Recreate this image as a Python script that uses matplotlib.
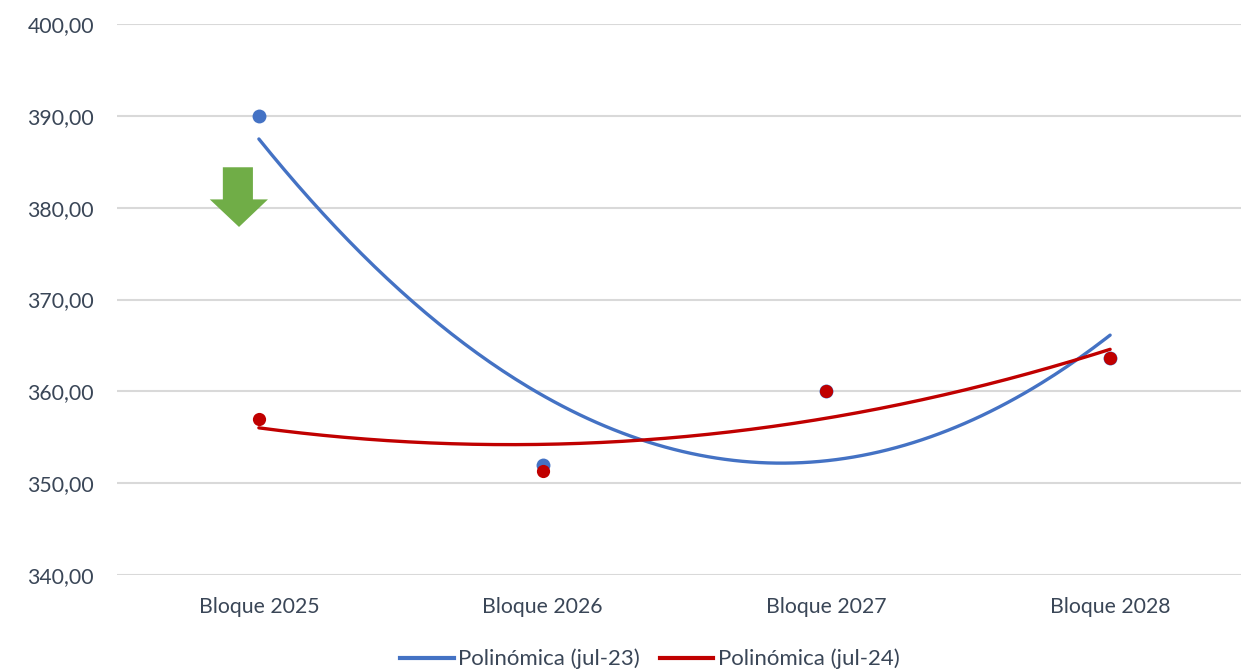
import numpy as np
import matplotlib
matplotlib.use("Agg")
import matplotlib.pyplot as plt
from matplotlib.patches import Polygon
from matplotlib.lines import Line2D

categories = ["Bloque 2025", "Bloque 2026", "Bloque 2027", "Bloque 2028"]
jul23 = [390.0, 352.0, 360.0, 363.6]
jul24 = [357.0, 351.3, 360.0, 363.6]
legend_labels = ["Polinómica (jul-23)", "Polinómica (jul-24)"]
yticks = [340, 350, 360, 370, 380, 390, 400]

BLUE = "#4472C4"
RED = "#C00000"
GREEN = "#70AD47"
TXT = "#3A4657"

plt.rcParams['font.family'] = ['Lato', 'DejaVu Sans']

fig = plt.figure(figsize=(12.41, 6.70), dpi=100)
ax = fig.add_axes([117/1241, 95/670, 1135/1241, 551/670])

x = np.arange(1, len(categories) + 1)
xs = np.linspace(1, len(categories), 200)

for vals, col in [(jul23, BLUE), (jul24, RED)]:
    c = np.polyfit(x, vals, 2)
    ax.plot(xs, np.polyval(c, xs), color=col, lw=2.4, solid_capstyle='round', zorder=3)

ax.plot(x, jul23, 'o', color=BLUE, ms=10, zorder=4, markeredgewidth=0)
ax.plot(x, jul24, 'o', color=RED, ms=9.5, zorder=5, markeredgewidth=0)

# green down arrow (annotation)
arrow = Polygon([(0.873, 384.4), (0.979, 384.4), (0.979, 380.9), (1.032, 380.9),
                 (0.93, 377.9), (0.827, 380.9), (0.873, 380.9)],
                closed=True, facecolor=GREEN, edgecolor='none', zorder=6)
ax.add_patch(arrow)

ax.set_xlim(0.5, len(categories) + 0.5)
ax.set_ylim(340, 400)
ax.set_yticks(yticks)
ax.set_yticklabels([f"{v:.2f}".replace(".", ",") for v in yticks])
ax.set_xticks(x)
ax.set_xticklabels(categories)
ax.tick_params(axis='both', length=0, labelsize=15.3, colors=TXT)
ax.tick_params(axis='y', pad=16.5)
ax.tick_params(axis='x', pad=16)
for s in ax.spines.values():
    s.set_visible(False)
ax.grid(axis='y', color='#D9D9D9', lw=1.5, zorder=0)
ax.set_axisbelow(True)

handles = [Line2D([], [], color=BLUE, lw=3), Line2D([], [], color=RED, lw=3)]
fig.legend(handles, legend_labels, loc='center', bbox_to_anchor=(650/1241, 1 - 659/670),
           ncol=2, frameon=False, fontsize=16, labelcolor=TXT, handlelength=2.4,
           handletextpad=0.2, columnspacing=0.9)

fig.savefig("out.png", dpi=100)
